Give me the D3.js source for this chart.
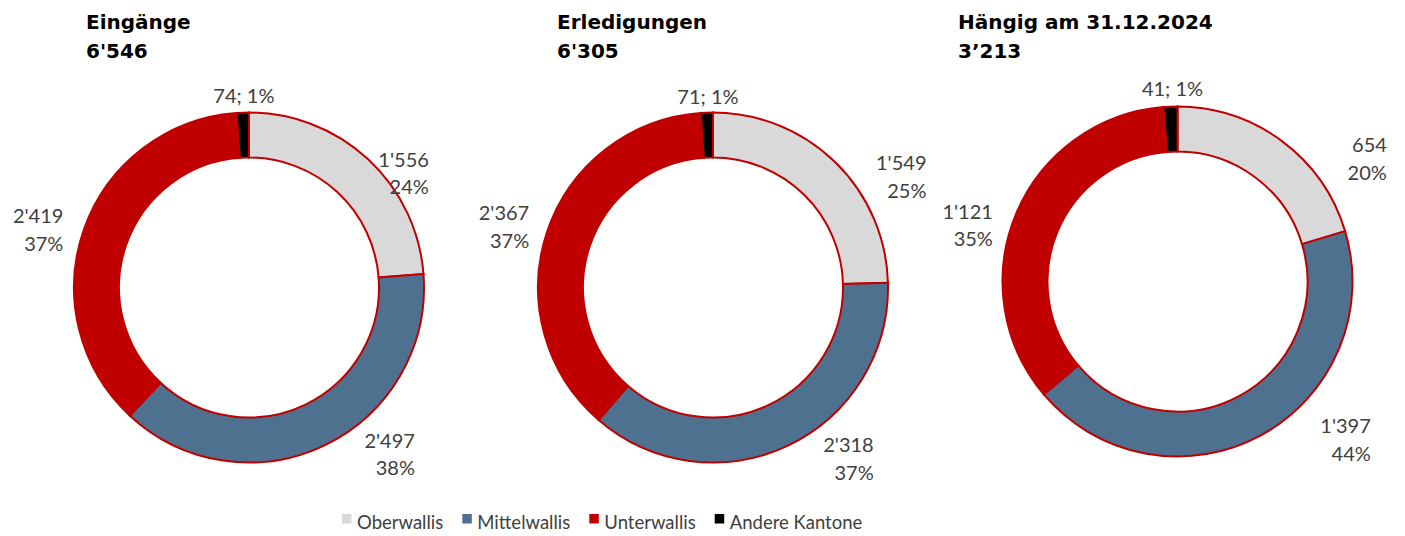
<!DOCTYPE html>
<html>
<head>
<meta charset="utf-8">
<script src="https://cdn.jsdelivr.net/npm/d3@7"></script>
<style>
  html, body { margin: 0; padding: 0; background: #fff; }
  svg { display: block; }
</style>
</head>
<body>
<svg id="chart" width="1405" height="536"></svg>
<script>
// data
const categories = ['Oberwallis', 'Mittelwallis', 'Unterwallis', 'Andere Kantone']
const titles = ['Eingänge', 'Erledigungen', 'Hängig am 31.12.2024']
const totals = ["6'546", "6'305", "3\u2019213"]
const eingaenge = [1556, 2497, 2419, 74]
const erledigungen = [1549, 2318, 2367, 71]
const haengig = [654, 1397, 1121, 41]
const series = [eingaenge, erledigungen, haengig]
// percentages as printed in the original labels
const eingaengePct = ['24%', '38%', '37%', '1%']
const erledigungenPct = ['25%', '37%', '37%', '1%']
const haengigPct = ['20%', '44%', '35%', '1%']
const pcts = [eingaengePct, erledigungenPct, haengigPct]

const colors = ['#d9d9d9', '#4e7190', '#c00000', '#000000']

// layout
const width = 1405
const height = 536
const outerR = 175
const innerR = 130
const labelR = 200
const centers = [[249, 287.5], [713, 287.5], [1177.5, 281.5]]
const titleX = [86, 557, 958]
// hand placed labels (as in the original), relative to mid-angle point
const labelNudges = [
  [[44, 26], [79, -20], [3, 2], [2, 15]],
  [[74, 26], [75, -16], [6, -4], [2, 16]],
  [[90, 31], [98, -24], [0, 14], [3, 14]],
]

const fmt = (v) => d3.format(',')(v).replace(/,/g, "'")

const svg = d3.select('#chart')
svg.append('rect').attr('width', width).attr('height', height).attr('fill', '#fff')

const pie = d3.pie().sort(null).value((d) => d)
const arc = d3.arc().innerRadius(innerR).outerRadius(outerR)

series.forEach((values, ci) => {
  const [cx, cy] = centers[ci]
  const arcs = pie(values)

  // title
  const title = svg.append('text')
    .attr('x', titleX[ci])
    .attr('font-family', 'DejaVu Sans, sans-serif')
    .attr('font-weight', 'bold')
    .attr('font-size', 20)
    .attr('fill', '#000')
  title.append('tspan').attr('x', titleX[ci]).attr('y', 29).text(titles[ci])
  title.append('tspan').attr('x', titleX[ci]).attr('y', 57.5).text(totals[ci])

  const g = svg.append('g').attr('transform', `translate(${cx},${cy})`)

  g.selectAll('path')
    .data(arcs)
    .join('path')
    .attr('d', arc)
    .attr('fill', (d, i) => colors[i])
    .attr('stroke', '#c00000')
    .attr('stroke-width', 2)
    .attr('stroke-linejoin', 'miter')

  // labels
  g.selectAll('text')
    .data(arcs)
    .join('text')
    .attr('font-family', 'Lato, sans-serif')
    .attr('font-size', 20)
    .attr('fill', '#404040')
    .each(function (d, i) {
      const a = (d.startAngle + d.endAngle) / 2
      const [nx, ny] = labelNudges[ci][i]
      const x = labelR * Math.sin(a) + nx
      const y = -labelR * Math.cos(a) + ny
      const pct = pcts[ci][i]
      const t = d3.select(this)
      if (i === 3) {
        t.attr('text-anchor', 'middle').attr('x', x).attr('y', y)
          .text(`${fmt(d.value)}; ${pct}`)
      } else {
        t.attr('text-anchor', 'end')
        t.append('tspan').attr('x', x).attr('y', y).text(fmt(d.value))
        t.append('tspan').attr('x', x).attr('y', y + 27.5).text(pct)
      }
    })
})

// legend
const legend = svg.append('g').attr('transform', 'translate(342,0)')
let lx = 0
categories.forEach((c, i) => {
  legend.append('rect')
    .attr('x', lx).attr('y', 514)
    .attr('width', 9.5).attr('height', 9.5)
    .attr('fill', colors[i])
  const t = legend.append('text')
    .attr('x', lx + 15).attr('y', 529)
    .attr('font-family', 'Lato, sans-serif')
    .attr('font-size', 18.5)
    .attr('fill', '#404040')
    .text(c)
  lx += 15 + t.node().getComputedTextLength() + 19
})
</script>
</body>
</html>
